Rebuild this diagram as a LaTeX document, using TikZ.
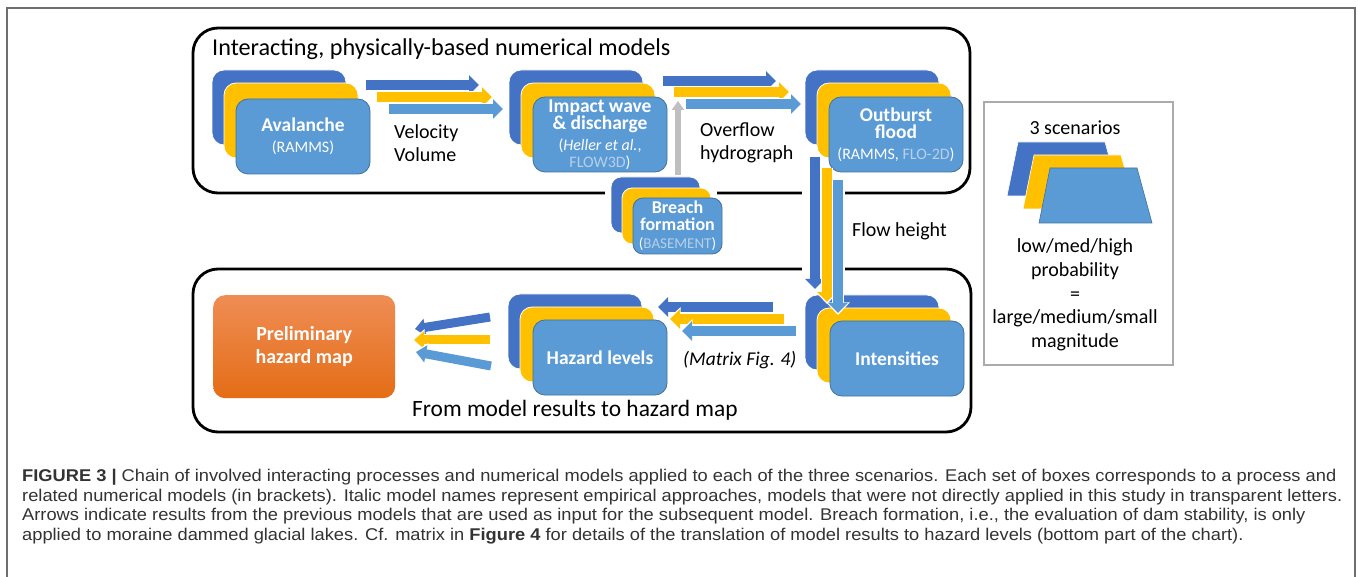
\documentclass[tikz,border=0pt]{standalone}
\usepackage{fontspec}
\setmainfont{Carlito}
\newfontfamily\capfont[FakeStretch=1.075]{Liberation Sans}
\usetikzlibrary{arrows.meta}

\definecolor{dblue}{HTML}{4472C4}
\definecolor{yel}{HTML}{FFC000}
\definecolor{lblue}{HTML}{5B9BD5}
\definecolor{lbedge}{HTML}{41719C}
\definecolor{faded}{HTML}{B7CFEA}
\definecolor{arrgray}{HTML}{BFBFBF}
\definecolor{pageframe}{HTML}{6E6E6E}
\definecolor{legedge}{HTML}{ABABAB}
\definecolor{orTop}{HTML}{EF8D55}
\definecolor{orBot}{HTML}{E46D16}
\definecolor{captext}{HTML}{333333}

\newcommand\modelfont{\mdseries\fontsize{16}{18}\selectfont}
\newcommand\smallmodel{\mdseries\fontsize{15}{17}\selectfont}

\tikzset{
  card/.style={rounded corners=12pt, anchor=north west, minimum width=134pt,
    minimum height=75pt, inner sep=0pt, outer sep=0pt},
  backcard/.style={card, fill=dblue, draw=white, line width=0.8pt},
  midcard/.style={card, fill=yel, draw=white, line width=0.8pt},
  frontcard/.style={card, fill=lblue, draw=lbedge, line width=0.8pt, text=white,
    align=center, font=\fontsize{19.5}{17}\selectfont\bfseries},
  smallcard/.style={minimum width=89pt, minimum height=56pt, rounded corners=10pt},
  flowarrow/.style={line width=10pt, -{Triangle[length=10pt,width=19pt]},
    preaction={draw=white, line width=12.5pt, shorten >=-2pt,
      -{Triangle[length=12.5pt,width=23pt]}}},
  thinarrow/.style={line width=9pt, -{Triangle[length=10pt,width=17pt]},
    preaction={draw=white, line width=11.5pt, shorten >=-2pt,
      -{Triangle[length=12.5pt,width=21pt]}}},
  grayarrow/.style={draw=arrgray, line width=6.5pt, -{Triangle[length=9pt,width=12pt]}},
  groupframe/.style={draw=black, line width=2.8pt, rounded corners=25pt},
  plain/.style={font=\fontsize{20}{23}\selectfont, inner sep=0pt},
  heading/.style={inner sep=0pt, anchor=base west},
}

\begin{document}
\begin{tikzpicture}[x=1pt, y=-1pt]
  \useasboundingbox (0,0) rectangle (1358,577);
  \fill[white] (0,0) rectangle (1358,577);

  % page frame (open at the bottom)
  \draw[pageframe, line width=1.5pt] (7,577) -- (7,8) -- (1355,8) -- (1355,577);

  % the two process groups
  \draw[groupframe] (193,28) rectangle (970,193);
  \draw[groupframe] (193,269) rectangle (971,432);
  \node[heading, font=\fontsize{24.2}{28}\selectfont] (ttop) at (212,56)
    {Interacting, physically-based numerical models};
  \node[heading, font=\fontsize{23.4}{28}\selectfont] (tbot) at (412,417)
    {From model results to hazard map};

  % clearances where boxes and arrows cross the group frames
  \fill[white] (605,187) rectangle (717,199);
  \fill[white] (802,187) rectangle (845,199);
  \fill[white] (802,263) rectangle (845,275);

  % ---- Avalanche
  \node[backcard] (av1) at (212,70) {};
  \node[midcard]  (av2) at (224,83) {};
  \node[frontcard] (av) at (236,99) {Avalanche\\[4pt]{\modelfont(RAMMS)}};

  % ---- Impact wave & discharge
  \node[backcard] (iw1) at (509,70) {};
  \node[midcard]  (iw2) at (521,83) {};
  \node[frontcard] (iw) at (533,97)
    {Impact wave\\\&~discharge\\[4pt]{\modelfont(\textit{Heller et al.},}\\{\modelfont\textcolor{faded}{FLOW3D})}};

  % ---- Outburst flood
  \node[backcard] (of1) at (805,70) {};
  \node[midcard]  (of2) at (817,83) {};
  \node[frontcard] (of) at (829,97)
    {Outburst\\flood\\[4pt]{\modelfont(RAMMS, \textcolor{faded}{FLO-2D})}};

  % ---- Breach formation
  \node[backcard, smallcard] (bf1) at (611,177) {};
  \node[midcard, smallcard]  (bf2) at (622,188) {};
  \node[frontcard, smallcard, font=\fontsize{18}{17}\selectfont\bfseries] (bf) at (633,198)
    {Breach\\formation\\[1pt]{\smallmodel(\textcolor{faded}{BASEMENT})}};

  % ---- Intensities
  \node[backcard] (in1) at (805,295) {};
  \node[midcard]  (in2) at (817,308) {};
  \node[frontcard] (in) at (830,321) {Intensities};

  % ---- Hazard levels
  \node[backcard] (hl1) at (508,294) {};
  \node[midcard]  (hl2) at (520,307) {};
  \node[frontcard] (hl) at (533,320) {Hazard levels};

  % ---- Preliminary hazard map
  \node[anchor=north west, rounded corners=12pt, top color=orTop, bottom color=orBot,
        minimum width=182pt, minimum height=103pt, inner sep=0pt, text=white,
        align=center, font=\fontsize{20}{23}\selectfont\bfseries] (phm) at (213,295)
    {Preliminary\\hazard map};

  % ---- arrow end points
  \coordinate (va1s) at (366,85);  \coordinate (va1e) at (479,85);
  \coordinate (va2s) at (377,97);  \coordinate (va2e) at (492,97);
  \coordinate (va3s) at (389,109); \coordinate (va3e) at (503,109);

  \coordinate (oh1s) at (663,81);  \coordinate (oh1e) at (776,81);
  \coordinate (oh2s) at (674,92);  \coordinate (oh2e) at (789,92);
  \coordinate (oh3s) at (686,104); \coordinate (oh3e) at (801,104);

  \coordinate (fh1s) at (815,157); \coordinate (fh1e) at (815,289);
  \coordinate (fh2s) at (827,168); \coordinate (fh2e) at (827,302);
  \coordinate (fh3s) at (838,180); \coordinate (fh3e) at (838,313);

  \coordinate (mx1s) at (773,307); \coordinate (mx1e) at (658,307);
  \coordinate (mx2s) at (784,319); \coordinate (mx2e) at (670,319);
  \coordinate (mx3s) at (796,331); \coordinate (mx3e) at (682,331);

  \coordinate (hm1s) at (490,317); \coordinate (hm1e) at (415,329);
  \coordinate (hm2s) at (490,340); \coordinate (hm2e) at (414,340);
  \coordinate (hm3s) at (491,366); \coordinate (hm3e) at (416,352);

  \coordinate (brs) at (678,175);  \coordinate (bre) at (678,101);

  % avalanche -> impact wave
  \draw[flowarrow, dblue] (va1s) -- (va1e);
  \draw[flowarrow, yel]   (va2s) -- (va2e);
  \draw[flowarrow, lblue] (va3s) -- (va3e);
  \node[plain, anchor=west, align=left] (vlab) at (394,143) {Velocity\\Volume};

  % impact wave -> outburst flood
  \draw[flowarrow, dblue] (oh1s) -- (oh1e);
  \draw[flowarrow, yel]   (oh2s) -- (oh2e);
  \draw[flowarrow, lblue] (oh3s) -- (oh3e);
  \node[plain, anchor=west, align=left] (ohlab) at (700,143) {Overflow\\hydrograph};

  % breach formation -> impact wave
  \draw[grayarrow] (brs) -- (bre);

  % outburst flood -> intensities
  \draw[flowarrow, dblue] (fh1s) -- (fh1e);
  \draw[flowarrow, yel]   (fh2s) -- (fh2e);
  \draw[flowarrow, lblue] (fh3s) -- (fh3e);
  \node[plain, anchor=west] (fhlab) at (852,231) {Flow height};

  % intensities -> hazard levels
  \draw[flowarrow, dblue] (mx1s) -- (mx1e);
  \draw[flowarrow, yel]   (mx2s) -- (mx2e);
  \draw[flowarrow, lblue] (mx3s) -- (mx3e);
  \node[plain, anchor=west, font=\fontsize{19.5}{23}\selectfont\itshape] (mxlab) at (683,360) {(Matrix Fig. 4)};

  % hazard levels -> preliminary hazard map
  \draw[thinarrow, dblue] (hm1s) -- (hm1e);
  \draw[thinarrow, yel]   (hm2s) -- (hm2e);
  \draw[thinarrow, lblue] (hm3s) -- (hm3e);

  % ---- legend
  \draw[legedge, line width=1.2pt] (984,102) rectangle (1173,365);
  \node[plain] (leg) at (1075,128) {3 scenarios};
  \filldraw[fill=dblue, draw=white, line width=0.6pt]
    (1007,196) -- (1018,142) -- (1105,142) -- (1120,196) -- cycle;
  \filldraw[fill=yel, draw=white, line width=0.6pt]
    (1023,209) -- (1034,155) -- (1121,155) -- (1136,209) -- cycle;
  \filldraw[fill=lblue, draw=lbedge, line width=0.6pt]
    (1039,223) -- (1050,168) -- (1137,168) -- (1152,223) -- cycle;
  \node[plain, align=center, font=\fontsize{20}{23.7}\selectfont] (legtxt) at (1075,295)
    {low/med/high\\probability\\=\\large/medium/small\\magnitude};

  % ---- caption
  \node[anchor=north west, inner sep=0pt, align=left, text=captext,
        font=\capfont\fontsize{17}{19.5}\selectfont] (cap) at (22,469)
    {\textbf{FIGURE 3 |} Chain of involved interacting processes and numerical models applied to each of the three scenarios. Each set of boxes corresponds to a process and\\
     related numerical models (in brackets). Italic model names represent empirical approaches, models that were not directly applied in this study in transparent letters.\\
     Arrows indicate results from the previous models that are used as input for the subsequent model. Breach formation, i.e., the evaluation of dam stability, is only\\
     applied to moraine dammed glacial lakes. Cf. matrix in \textbf{Figure 4} for details of the translation of model results to hazard levels (bottom part of the chart).};
\end{tikzpicture}
\end{document}
